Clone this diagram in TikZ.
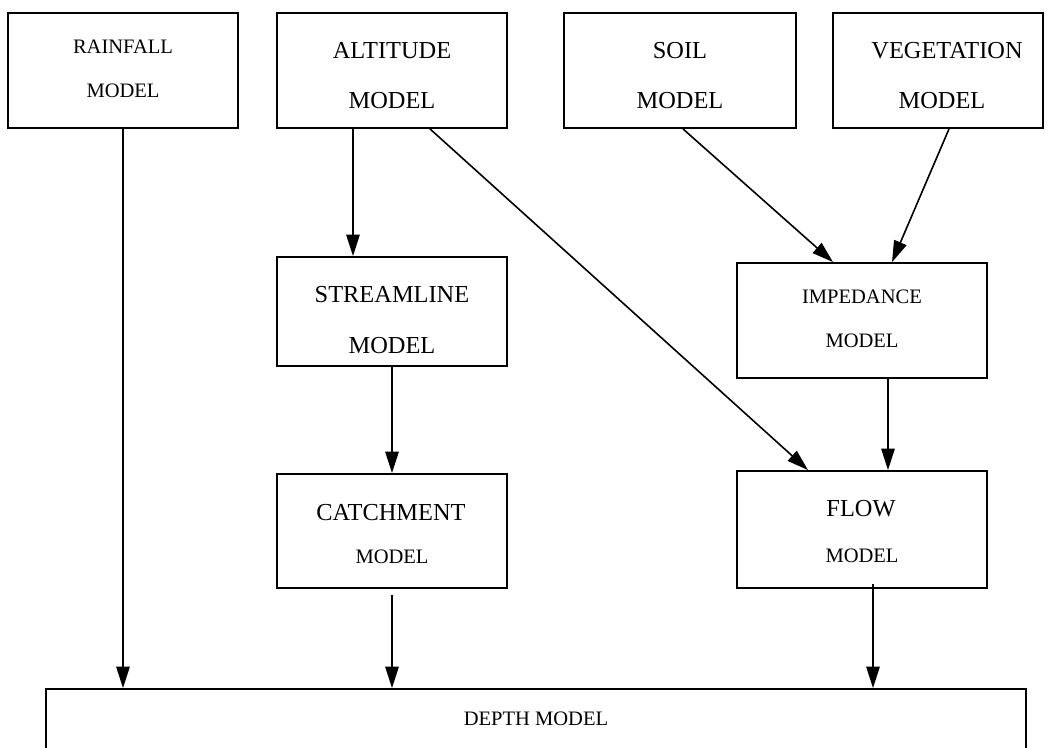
\documentclass[tikz,border=0pt]{standalone}
\usepackage{fontspec}
\setmainfont{Liberation Serif}
\usetikzlibrary{arrows.meta,fit,calc}
\begin{document}
\begin{tikzpicture}[x=0.75pt,y=-0.75pt,
  box/.style={draw, line width=1.4pt, inner sep=0pt},
  arr/.style={line width=1.2pt, -{Triangle[length=16pt,width=10pt]}},
  lg/.style={anchor=base, inner sep=0pt, font=\fontsize{18.3}{20}\selectfont},
  sm/.style={anchor=base, inner sep=0pt, font=\fontsize{15.4}{18}\selectfont}]
\useasboundingbox (0,0) rectangle (1053,747);
\begin{scope}
\clip (0,0) rectangle (1053,747);
% boxes
\node[box, fit={(8,13) (238,128)}] (rain) {};
\node[box, fit={(277,13) (507,128)}] (alt) {};
\node[box, fit={(564,13) (796,128)}] (soil) {};
\node[box, fit={(833,13) (1043,128)}] (veg) {};
\node[box, fit={(277,257) (507,366)}] (stream) {};
\node[box, fit={(737,263) (987,378)}] (imp) {};
\node[box, fit={(277,474) (507,588)}] (catch) {};
\node[box, fit={(737,471) (987,588)}] (flow) {};
\node[box, fit={(46,689) (1026,775)}] (depth) {};
\end{scope}
% texts
\node[sm] (t1a) at (123,53) {RAINFALL};
\node[sm] (t1b) at (123,97) {MODEL};
\node[lg] (t2a) at (392,58) {ALTITUDE};
\node[lg] (t2b) at (392,108) {MODEL};
\node[lg] (t3a) at (680,58) {SOIL};
\node[lg] (t3b) at (680,108) {MODEL};
\node[lg] (t4a) at (947,58) {VEGETATION};
\node[lg] (t4b) at (942,108) {MODEL};
\node[lg] (t5a) at (392,302) {STREAMLINE};
\node[lg] (t5b) at (392,353) {MODEL};
\node[sm] (t6a) at (862,303) {IMPEDANCE};
\node[sm] (t6b) at (862,347) {MODEL};
\node[lg] (t7a) at (391,520) {CATCHMENT};
\node[sm] (t7b) at (392,563) {MODEL};
\node[lg] (t8a) at (861,516) {FLOW};
\node[sm] (t8b) at (862,562) {MODEL};
\node[sm] (t9) at (536,725) {DEPTH MODEL};
% connector ends
\coordinate (a1) at ($(alt.south)+(-39,0)$);
\coordinate (a2) at ($(alt.south)+(38,0)$);
\coordinate (s1) at ($(soil.south)+(3,0)$);
\coordinate (v1) at ($(veg.south)+(11,0)$);
\coordinate (i1) at ($(imp.south)+(26,0)$);
\coordinate (c1) at ($(catch.south)+(0,6)$);
\coordinate (f1) at ($(flow.south)+(11,-5)$);
% connectors
\draw[arr] (rain.south) -- (rain.south |- depth.north);
\draw[arr] (a1) -- (a1 |- stream.north);
\draw[arr] (a2) -- ($(flow.north)+(-54,0)$);
\draw[arr] (s1) -- ($(imp.north)+(-29,0)$);
\draw[arr] (v1) -- ($(imp.north)+(30,0)$);
\draw[arr] (stream.south) -- (catch.north);
\draw[arr] (i1) -- (i1 |- flow.north);
\draw[arr] (c1) -- (c1 |- depth.north);
\draw[arr] (f1) -- (f1 |- depth.north);
\end{tikzpicture}
\end{document}
